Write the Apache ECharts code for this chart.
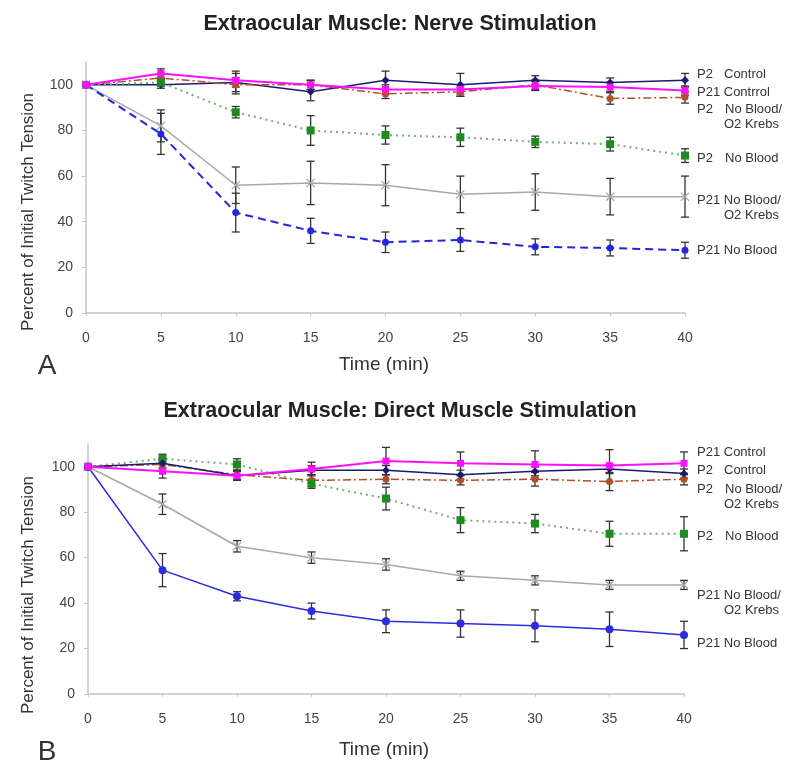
<!DOCTYPE html>
<html>
<head>
<meta charset="utf-8">
<script src="https://cdn.jsdelivr.net/npm/echarts@6/dist/echarts.min.js"></script>
<style>html,body{margin:0;padding:0;background:#fff;}#c{width:800px;height:773px;}</style>
</head>
<body>
<div id="c"></div>
<script>
// ---------- DATA ----------
const times = [0, 5, 10, 15, 20, 25, 30, 35, 40];
const yTicks = [0, 20, 40, 60, 80, 100];

const titleA = 'Extraocular Muscle: Nerve Stimulation';
const titleB = 'Extraocular Muscle: Direct Muscle Stimulation';
const yName = 'Percent of Initial Twitch Tension';
const xName = 'Time (min)';

// Panel A (nerve stimulation)
const A_P2Control      = [100, 100, 101, 97, 102, 100, 102, 101, 102];
const A_P2Control_err  = [0, 1.5, 5, 4, 4, 5, 2, 2, 3];
const A_P21Control     = [100, 105, 102, 100, 98, 98, 99.5, 99, 97.5];
const A_P21Control_err = [0, 2, 3, 2, 2, 2, 2, 2, 2];
const A_P2NBKrebs      = [100, 103, 100, 100, 96, 97, 100, 94, 94.5];
const A_P2NBKrebs_err  = [0, 2, 3, 2, 2, 2, 2, 2.5, 2.5];
const A_P2NB           = [100, 101, 88, 80, 78, 77, 75, 74, 69];
const A_P2NB_err       = [0, 1.5, 2.5, 6.5, 4, 4, 2.5, 3, 3];
const A_P21NBKrebs     = [100, 82, 56, 57, 56, 52, 53, 51, 51];
const A_P21NBKrebs_err = [0, 7, 8, 9.5, 9, 8, 8, 8, 9];
const A_P21NB          = [100, 78.5, 44, 36, 31, 32, 29, 28.5, 27.5];
const A_P21NB_err      = [0, 9, 8.5, 5.5, 4.5, 5, 3.5, 3.5, 3.5];

// Panel B (direct muscle stimulation)
const B_P21Control     = [100, 98, 96, 99, 102.5, 101.5, 101, 100.5, 101.5];
const B_P21Control_err = [0, 3, 2, 3, 6, 5, 6, 7, 5];
const B_P2Control      = [100, 101.5, 96, 98.5, 98.5, 96.5, 98, 99, 97];
const B_P2Control_err  = [0, 2, 2, 2, 2, 2, 2, 2, 2];
const B_P2NBKrebs      = [100, 101, 96.5, 94, 94.5, 94, 94.5, 93.5, 94.5];
const B_P2NBKrebs_err  = [0, 2, 2, 2.5, 2, 2, 3, 4, 2.5];
const B_P2NB           = [100, 103.5, 101, 92.5, 86, 76.5, 75, 70.5, 70.5];
const B_P2NB_err       = [0, 2, 2.5, 2, 5, 5.5, 4, 5.5, 7.5];
const B_P21NBKrebs     = [100, 83.5, 65, 60, 57, 52, 50, 48, 48];
const B_P21NBKrebs_err = [0, 4.5, 2.5, 2.5, 2.5, 2, 2, 2, 2];
const B_P21NB          = [100, 54.5, 43, 36.5, 32, 31, 30, 28.5, 26];
const B_P21NB_err      = [0, 7.3, 2, 3.5, 5, 6, 7, 7.6, 6];

// Right-hand series labels (prefix, rest)
const labelsA = [['P2', 'Control'], ['P21 Contrrol', ''], ['P2', 'No Blood/'], ['', 'O2 Krebs'],
                 ['P2', 'No Blood'], ['P21 No Blood/', ''], ['', 'O2 Krebs'], ['P21 No Blood', '']];
const labelsB = [['P21 Control', ''], ['P2', 'Control'], ['P2', 'No Blood/'], ['', 'O2 Krebs'],
                 ['P2', 'No Blood'], ['P21 No Blood/', ''], ['', 'O2 Krebs'], ['P21 No Blood', '']];
const panelLetters = ['A', 'B'];

// ---------- LAYOUT / STYLE ----------
const FONT = "'Liberation Sans', Arial, Helvetica, sans-serif";
const labelYA = [74, 92, 109, 124, 158, 200, 215, 250];
const labelYB = [452, 470, 489, 504, 536, 595, 610, 643];
const restXA  = [724, 0, 725, 724, 725, 0, 724, 0];
const restXB  = [0, 724, 725, 724, 725, 0, 724, 0];

const xSym = 'path://M0,1L1,0L5,4L9,0L10,1L6,5L10,9L9,10L5,6L1,10L0,9L4,5Z';

const styles = {
  P2Control:   {color: '#1b1b6e', symbol: 'diamond', size: 8, line: 'solid', w: 1.5},
  P21Control:  {color: '#ff10ff', symbol: 'rect', size: 7, line: 'solid', w: 2},
  P2NBKrebs:   {color: '#b0502a', symbol: 'circle', size: 7, line: [8, 3, 2, 3], w: 1.5},
  P2NB:        {color: '#1f8a1f', lineColor: '#70b070', symbol: 'rect', size: 8, line: [2, 4], w: 2},
  P21NBKrebs:  {color: '#a8a8a8', symbol: xSym, size: 9, line: 'solid', w: 1.5},
  P21NB_A:     {color: '#2525e0', symbol: 'circle', size: 7, line: [8, 5], w: 2},
  P21NB_B:     {color: '#2b2be0', symbol: 'circle', size: 8, line: 'solid', w: 1.5}
};

function lineSeries(idx, vals, st) {
  return {
    type: 'line', xAxisIndex: idx, yAxisIndex: idx, z: 3,
    data: times.map((t, i) => [t, vals[i]]),
    symbol: st.symbol, symbolSize: st.size, showSymbol: true,
    itemStyle: {color: st.color},
    lineStyle: {color: st.lineColor || st.color, width: st.w, type: st.line},
    animation: false
  };
}
function errRender(params, api) {
  const x = api.value(0), lo = api.value(1), hi = api.value(2);
  if (hi - lo <= 0) return null;
  const p1 = api.coord([x, hi]), p2 = api.coord([x, lo]);
  const w = 4;
  const s = {stroke: '#333', lineWidth: 1.3};
  return {type: 'group', children: [
    {type: 'line', shape: {x1: p1[0], y1: p1[1], x2: p2[0], y2: p2[1]}, style: s},
    {type: 'line', shape: {x1: p1[0] - w, y1: p1[1], x2: p1[0] + w, y2: p1[1]}, style: s},
    {type: 'line', shape: {x1: p2[0] - w, y1: p2[1], x2: p2[0] + w, y2: p2[1]}, style: s}
  ]};
}
function errSeries(idx, vals, errs) {
  return {
    type: 'custom', xAxisIndex: idx, yAxisIndex: idx, z: 2,
    renderItem: errRender,
    data: times.map((t, i) => [t, vals[i] - errs[i], vals[i] + errs[i]]),
    animation: false, silent: true
  };
}

const panelA = [
  [A_P2Control, A_P2Control_err, styles.P2Control],
  [A_P2NBKrebs, A_P2NBKrebs_err, styles.P2NBKrebs],
  [A_P2NB, A_P2NB_err, styles.P2NB],
  [A_P21NBKrebs, A_P21NBKrebs_err, styles.P21NBKrebs],
  [A_P21NB, A_P21NB_err, styles.P21NB_A],
  [A_P21Control, A_P21Control_err, styles.P21Control]
];
const panelB = [
  [B_P2NBKrebs, B_P2NBKrebs_err, styles.P2NBKrebs],
  [B_P2NB, B_P2NB_err, styles.P2NB],
  [B_P2Control, B_P2Control_err, styles.P2Control],
  [B_P21NBKrebs, B_P21NBKrebs_err, styles.P21NBKrebs],
  [B_P21NB, B_P21NB_err, styles.P21NB_B],
  [B_P21Control, B_P21Control_err, styles.P21Control]
];

const series = [];
[panelA, panelB].forEach((panel, idx) => {
  panel.forEach(([v, e]) => series.push(errSeries(idx, v, e)));
  panel.forEach(([v, e, st]) => series.push(lineSeries(idx, v, st)));
});

function xAxis(idx) {
  return {
    type: 'value', gridIndex: idx, min: 0, max: 40, interval: 5,
    axisLine: {lineStyle: {color: '#c4c4c4', width: 1.5}},
    axisTick: {show: true, length: 3, lineStyle: {color: '#c4c4c4'}},
    axisLabel: {color: '#444', fontSize: 14, fontFamily: FONT, margin: 18},
    splitLine: {show: false}
  };
}
function yAxis(idx) {
  return {
    type: 'value', gridIndex: idx, min: 0, max: 110, interval: 20,
    axisLine: {show: true, lineStyle: {color: '#c4c4c4', width: 1.5}},
    axisTick: {show: true, length: 4, lineStyle: {color: '#c4c4c4'}, customValues: yTicks},
    axisLabel: {color: '#444', fontSize: 14, fontFamily: FONT, margin: 13, customValues: yTicks,
                formatter: v => (v > 100 ? '' : String(v))},
    splitLine: {show: false}
  };
}

const graphics = [];
function addLabels(labels, ys, restX) {
  labels.forEach((l, i) => {
    if (l[0]) graphics.push({type: 'text', x: 697, y: ys[i],
      style: {text: l[0], fill: '#333', font: '13px ' + FONT, verticalAlign: 'middle'}});
    if (l[1]) graphics.push({type: 'text', x: restX[i], y: ys[i],
      style: {text: l[1], fill: '#333', font: '13px ' + FONT, verticalAlign: 'middle'}});
  });
}
addLabels(labelsA, labelYA, restXA);
addLabels(labelsB, labelYB, restXB);
[[212, 366, 365], [595, 752, 750]].forEach((p, i) => {
  graphics.push({type: 'text', x: 28, y: p[0], rotation: Math.PI / 2,
    style: {text: yName, fill: '#333', font: '17px ' + FONT, align: 'center', verticalAlign: 'middle'}});
  graphics.push({type: 'text', x: 47, y: p[1],
    style: {text: panelLetters[i], fill: '#333', font: '28px ' + FONT, align: 'center', verticalAlign: 'middle'}});
  graphics.push({type: 'text', x: 384, y: p[2],
    style: {text: xName, fill: '#333', font: '19px ' + FONT, align: 'center', verticalAlign: 'middle'}});
});

const option = {
  backgroundColor: '#fff',
  animation: false,
  title: [
    {text: titleA, left: 'center', top: 8, textStyle: {fontSize: 21.5, fontWeight: 'bold', color: '#222', fontFamily: FONT}},
    {text: titleB, left: 'center', top: 395, textStyle: {fontSize: 21.5, fontWeight: 'bold', color: '#222', fontFamily: FONT}}
  ],
  grid: [
    {left: 86, right: 115, top: 62, bottom: 460},
    {left: 88, right: 116, top: 444, bottom: 79}
  ],
  xAxis: [xAxis(0), xAxis(1)],
  yAxis: [yAxis(0), yAxis(1)],
  series: series,
  graphic: graphics
};

const chart = echarts.init(document.getElementById('c'), null, {renderer: 'canvas'});
chart.setOption(option);
</script>
</body>
</html>
